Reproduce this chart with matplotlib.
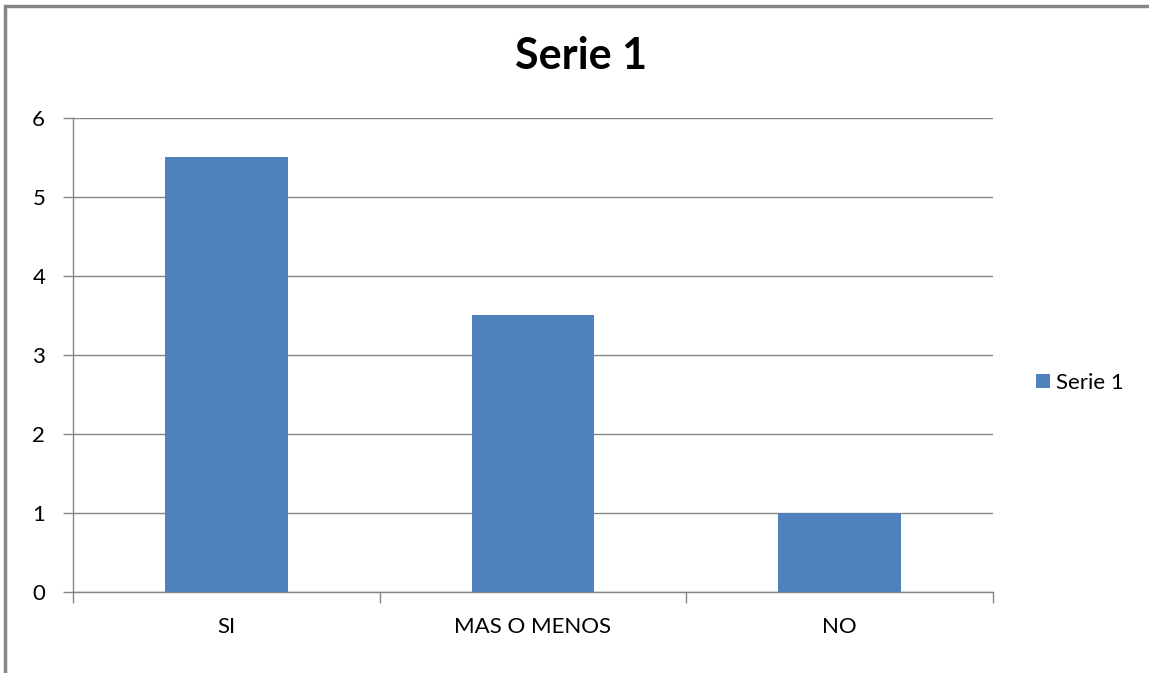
import matplotlib.pyplot as plt
from matplotlib.patches import Rectangle

categorias = ['SI', 'MAS O MENOS', 'NO']
valores = [5.5, 3.5, 1]
serie = 'Serie 1'

plt.rcParams['font.family'] = ['Lato', 'DejaVu Sans']
gris = '#868686'

fig = plt.figure(figsize=(11.49, 6.73), dpi=100)
ax = fig.add_axes([0.0635, 0.1204, 0.8007, 0.7043])

x = range(len(categorias))
ax.bar(x, valores, width=0.4, color='#4F81BD', label=serie, zorder=3)

ax.set_xlim(-0.5, len(categorias) - 0.5)
ax.set_ylim(0, 6)
ax.set_yticks(range(0, 7))
ax.grid(axis='y', color=gris, linewidth=1, zorder=0)

# etiquetas centradas, marcas entre categorias
ax.set_xticks(list(x))
ax.set_xticklabels(categorias)
ax.set_xticks([i - 0.5 for i in range(len(categorias) + 1)], minor=True)
ax.tick_params(axis='x', which='major', length=0, pad=18, labelsize=16)
ax.tick_params(axis='x', which='minor', length=8, color=gris, width=1)
ax.tick_params(axis='y', length=7, color=gris, width=1, pad=13, labelsize=16)

for s in ['top', 'right']:
    ax.spines[s].set_visible(False)
for s in ['left', 'bottom']:
    ax.spines[s].set_color(gris)
    ax.spines[s].set_linewidth(1)

fig.text(0.506, 0.917, serie, ha='center', va='center', fontsize=31, fontweight='bold')

ax.legend(loc='center left', bbox_to_anchor=(1.047, 0.441), frameon=False,
          borderaxespad=0, borderpad=0, fontsize=16,
          handlelength=0.6, handleheight=0.6, handletextpad=0.3)

# borde del grafico
fig.patches.append(Rectangle((5 / 1149, -0.1), 1.2, 1.1 - 6 / 673,
                             transform=fig.transFigure, fill=False,
                             edgecolor=gris, linewidth=2.5))

fig.savefig('out.png', dpi=100)
